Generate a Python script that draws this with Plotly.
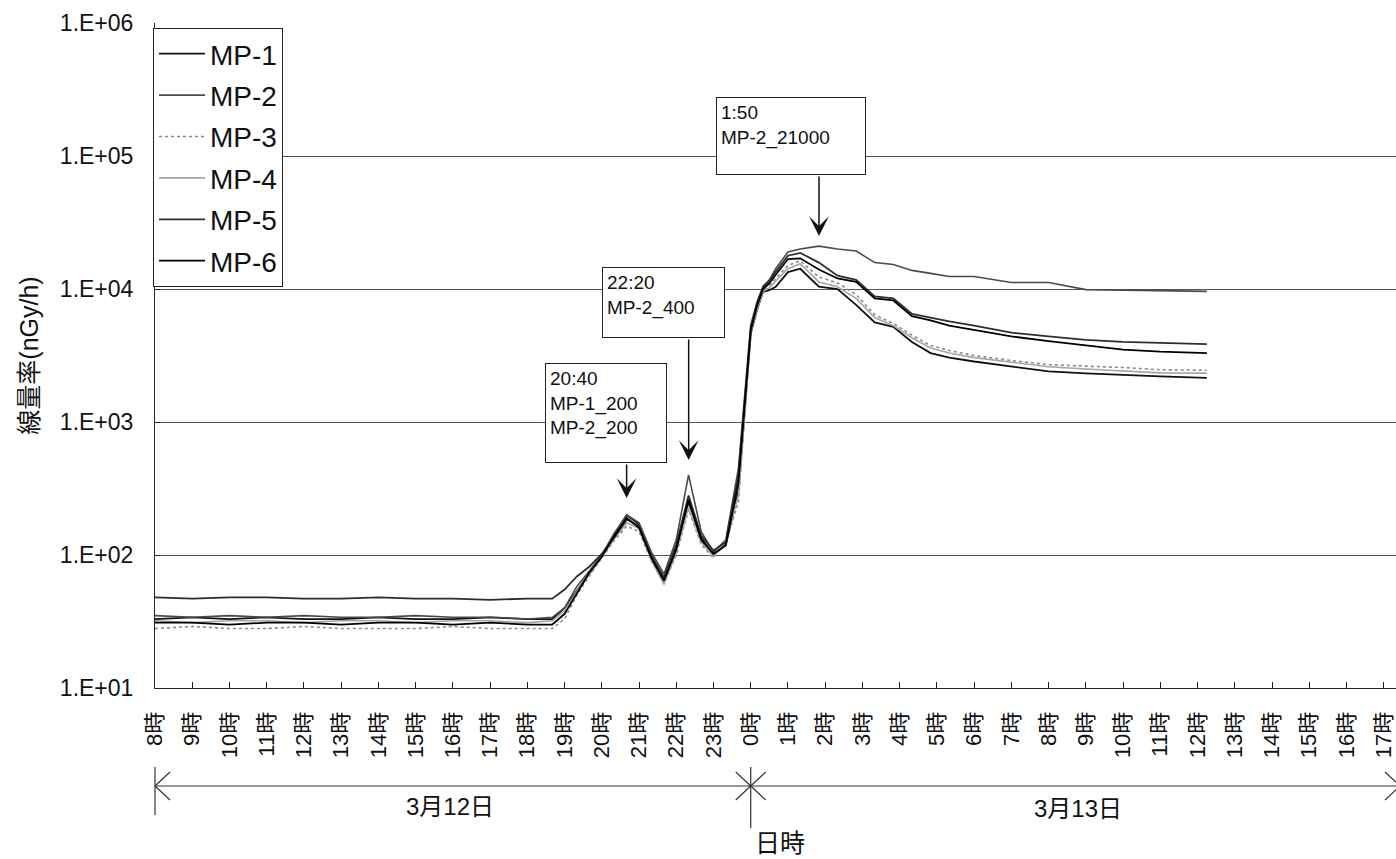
import math
import plotly.graph_objects as go

# ---------------- data ----------------
# time in hours; 8 = 3/12 8:00, 24 = 3/13 0:00, 36.25 = 3/13 12:15
HOURS = [8.0, 9.0, 10.0, 11.0, 12.0, 13.0, 14.0, 15.0, 16.0, 17.0, 18.0, 18.67,
         19.0, 19.33, 19.67, 20.0, 20.33, 20.67, 21.0, 21.33, 21.67, 22.0, 22.33, 22.67, 23.0, 23.33, 23.67,
         24.0, 24.17, 24.33, 24.5, 24.67, 25.0, 25.33, 25.83, 26.33, 26.83, 27.33, 27.83, 28.33, 28.83, 29.33,
         30.0, 31.0, 32.0, 33.0, 34.0, 35.0, 36.25]

MP1 = [33, 34, 33, 34, 33, 33, 34, 33, 33, 34, 33, 33,
       40, 54, 72, 98, 140, 200, 170, 100, 66, 115, 250, 135, 100, 120, 300,
       4600, 7000, 9500, 9800, 10400, 13400, 14200, 10400, 10000, 7600, 5600, 5200, 4000, 3300, 3050,
       2850, 2600, 2400, 2320, 2250, 2200, 2150]
MP2 = [35, 34, 35, 34, 35, 34, 34, 35, 34, 34, 33, 34,
       40, 58, 76, 100, 145, 200, 175, 105, 72, 130, 400, 150, 105, 130, 450,
       5400, 8000, 10500, 11700, 14200, 19000, 20000, 21000, 20000, 19300, 15800, 15300, 13800, 13100, 12400,
       12400, 11200, 11200, 9900, 9800, 9700, 9600]
MP3 = [28, 29, 28, 28, 29, 28, 28, 28, 29, 28, 28, 28,
       33, 50, 70, 95, 128, 165, 150, 90, 61, 100, 220, 120, 95, 125, 250,
       4800, 7200, 9600, 10500, 12000, 15000, 16300, 12300, 11100, 9100, 6400, 5500, 4500, 3760, 3450,
       3160, 2900, 2700, 2630, 2570, 2470, 2450]
MP4 = [32, 31, 32, 32, 31, 32, 32, 31, 32, 32, 31, 32,
       38, 53, 72, 96, 132, 175, 158, 92, 60, 105, 230, 125, 97, 128, 280,
       4700, 7100, 9600, 10200, 11500, 14200, 15500, 11300, 10400, 8500, 6100, 5300, 4300, 3600, 3300,
       3050, 2800, 2600, 2500, 2430, 2340, 2330]
MP5 = [48, 47, 48, 48, 47, 47, 48, 47, 47, 46, 47, 47,
       55, 69, 82, 102, 135, 185, 165, 98, 68, 120, 280, 140, 108, 125, 400,
       5000, 7800, 10300, 11500, 13500, 17800, 18700, 15800, 12600, 11700, 8800, 8500, 6500, 6100, 5700,
       5300, 4700, 4400, 4150, 4000, 3920, 3850]
MP6 = [31, 31, 30, 31, 31, 30, 31, 31, 30, 31, 30, 30,
       36, 51, 74, 97, 138, 190, 160, 95, 64, 110, 260, 130, 102, 118, 350,
       4900, 7500, 10000, 11000, 12800, 16800, 17000, 14000, 12000, 11300, 8500, 8200, 6250, 5800, 5300,
       4900, 4400, 4050, 3760, 3500, 3380, 3300]

SERIES_NAMES = ["MP-1", "MP-2", "MP-3", "MP-4", "MP-5", "MP-6"]
SERIES_VALUES = [MP1, MP2, MP3, MP4, MP5, MP6]

TICK_HOURS = list(range(8, 42))
TICK_LABELS = [f"{h % 24}時" for h in TICK_HOURS]
Y_TICKS = [1e1, 1e2, 1e3, 1e4, 1e5, 1e6]
Y_TICK_LABELS = ["1.E+01", "1.E+02", "1.E+03", "1.E+04", "1.E+05", "1.E+06"]

CALLOUT_HOURS = [20 + 40 / 60, 22 + 20 / 60, 25 + 50 / 60]
CALLOUT_TEXTS = ["20:40<br>MP-1_200<br>MP-2_200", "22:20<br>MP-2_400", "1:50<br>MP-2_21000"]
ARROW_TIP_VALUES = [268, 518, 25000]

DAY_LABELS = ["3月12日", "3月13日"]

# ---------------- styling / layout ----------------
W, H = 1396, 859
ML, MR, MT, MB = 155, 0, 23, 171
PW, PH = W - ML - MR, H - MT - MB
XMIN, XMAX = 8.0, 41.33
FONT = "Liberation Sans, Arial, Noto Sans CJK JP, sans-serif"

COLORS = ["#111111", "#4a4a4a", "#8a8a8a", "#a5a5a5", "#2e2e2e", "#000000"]
DASHES = ["solid", "solid", "dot", "solid", "solid", "solid"]
WIDTHS = [1.8, 1.6, 1.6, 1.6, 1.8, 1.8]


def px_x(px):
    return (px - ML) / PW


def px_y(py):
    return (MT + PH - py) / PH


def hour_x(h):
    return (h - XMIN) / (XMAX - XMIN)


fig = go.Figure()
for name, vals, c, d, w in zip(SERIES_NAMES, SERIES_VALUES, COLORS, DASHES, WIDTHS):
    fig.add_trace(go.Scatter(x=HOURS, y=vals, mode="lines", name=name, legendgroup=name,
                             line=dict(color=c, dash=d, width=w)))

annotations = []
# callout boxes
boxes = [(545, 363, 122, 100), (602, 267, 123, 71), (716, 97, 150, 78)]
for (bx, by, bw, bh), txt in zip(boxes, CALLOUT_TEXTS):
    annotations.append(dict(
        xref="paper", yref="paper", x=px_x(bx), y=px_y(by), xanchor="left", yanchor="top",
        text=txt, showarrow=False, align="left", valign="top",
        width=bw - 10, height=bh - 10, borderpad=4, bordercolor="#222", borderwidth=1,
        bgcolor="white", font=dict(size=19, family=FONT, color="#111")))
# arrows
tails = [35, 122, 61]
for h, v, t in zip(CALLOUT_HOURS, ARROW_TIP_VALUES, tails):
    annotations.append(dict(
        xref="x", yref="y", x=h, y=math.log10(v), ax=0, ay=-t, text="",
        showarrow=True, arrowhead=3, arrowsize=2.2, arrowwidth=1.5, arrowcolor="#111",
        standoff=0, startstandoff=0))
# day labels and x-axis title
for lbl, cx, cy, fs in zip(DAY_LABELS + ["日時"], [450, 1078, 780], [806, 808, 843], [24, 24, 25]):
    annotations.append(dict(xref="paper", yref="paper", x=px_x(cx), y=px_y(cy),
                            xanchor="center", yanchor="middle", text=lbl, showarrow=False,
                            font=dict(size=fs, family=FONT, color="#111")))

# bracket below the axis
shapes = []
LC = dict(color="#333", width=1.2)
yl = px_y(786)
shapes.append(dict(type="line", xref="paper", yref="paper", x0=0, x1=1.01, y0=yl, y1=yl, line=LC))
shapes.append(dict(type="line", xref="paper", yref="paper", x0=hour_x(8), x1=hour_x(8),
                   y0=px_y(767), y1=px_y(815), line=LC))
shapes.append(dict(type="line", xref="paper", yref="paper", x0=hour_x(24), x1=hour_x(24),
                   y0=px_y(767), y1=px_y(828), line=LC))
dx = 15 / PW
for tip, sgn in [(hour_x(8), 1), (hour_x(24), -1), (hour_x(24), 1), (px_x(1400), -1)]:
    for yy in (772, 800):
        shapes.append(dict(type="line", xref="paper", yref="paper",
                           x0=tip, y0=yl, x1=tip + sgn * dx, y1=px_y(yy), line=LC))

fig.update_layout(
    width=W, height=H,
    margin=dict(l=ML, r=MR, t=MT, b=MB, pad=0, autoexpand=False),
    paper_bgcolor="white", plot_bgcolor="white",
    font=dict(family=FONT, color="#111"),
    showlegend=True,
    legend=dict(x=px_x(153), y=px_y(28), xanchor="left", yanchor="top",
                bordercolor="#222", borderwidth=1, bgcolor="white",
                font=dict(size=28, family=FONT, color="#111"),
                tracegroupgap=2, itemwidth=46),
    annotations=annotations,
    shapes=shapes,
    xaxis=dict(range=[XMIN, XMAX], tickmode="array", tickvals=TICK_HOURS, ticktext=TICK_LABELS,
               tickangle=-90, ticks="inside", ticklen=6, tickcolor="#222", automargin=False,
               ticklabeloverflow="allow",
               showline=True, linecolor="#222", linewidth=1, showgrid=False, zeroline=False,
               tickfont=dict(size=22, family=FONT, color="#111"), ticklabelstandoff=14),
    yaxis=dict(type="log", range=[1, 6], tickmode="array", tickvals=Y_TICKS, ticktext=Y_TICK_LABELS,
               ticks="inside", ticklen=5, tickcolor="#222", automargin=False,
               showline=True, linecolor="#222", linewidth=1,
               showgrid=True, gridcolor="#555", gridwidth=1, zeroline=False,
               tickfont=dict(size=23, family=FONT, color="#111"), ticklabelstandoff=16,
               title=dict(text="線量率(nGy/h)", font=dict(size=25, family=FONT, color="#111"), standoff=14)),
)

fig.write_html("out.html", config={"displayModeBar": False},
               post_script="document.body.style.margin='0px';document.body.style.overflow='hidden';")
